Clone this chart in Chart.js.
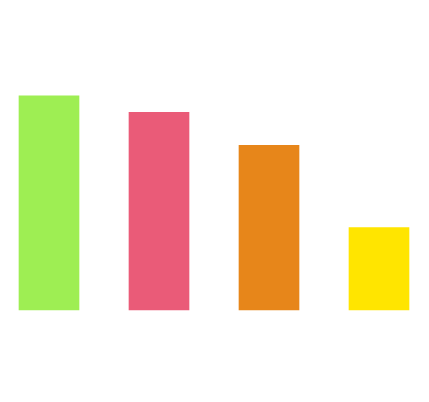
<!DOCTYPE html>
<html>
<head>
<meta charset="utf-8">
<style>
  html, body { margin: 0; padding: 0; background: #ffffff; }
  #c { display: block; }
</style>
<script src="https://cdn.jsdelivr.net/npm/chart.js@4/dist/chart.umd.min.js"></script>
</head>
<body>
<canvas id="c" width="429" height="402"></canvas>
<script>
const categories = ["A", "B", "C", "D"];
const values = [26, 24, 20, 10];
const barColors = ["#9eee53", "#ea5b78", "#e7861a", "#ffe500"];

new Chart(document.getElementById("c"), {
  type: "bar",
  data: {
    labels: categories,
    datasets: [{
      data: values,
      backgroundColor: barColors,
      borderWidth: 0,
      barThickness: 60,
      clip: false
    }]
  },
  options: {
    responsive: false,
    animation: false,
    devicePixelRatio: 1,
    layout: { padding: { left: 49, right: 50, top: 63, bottom: 92 } },
    plugins: { legend: { display: false }, tooltip: { enabled: false } },
    scales: {
      x: { display: false, offset: false },
      y: { display: false, min: 0, max: 30 }
    }
  }
});
</script>
</body>
</html>
